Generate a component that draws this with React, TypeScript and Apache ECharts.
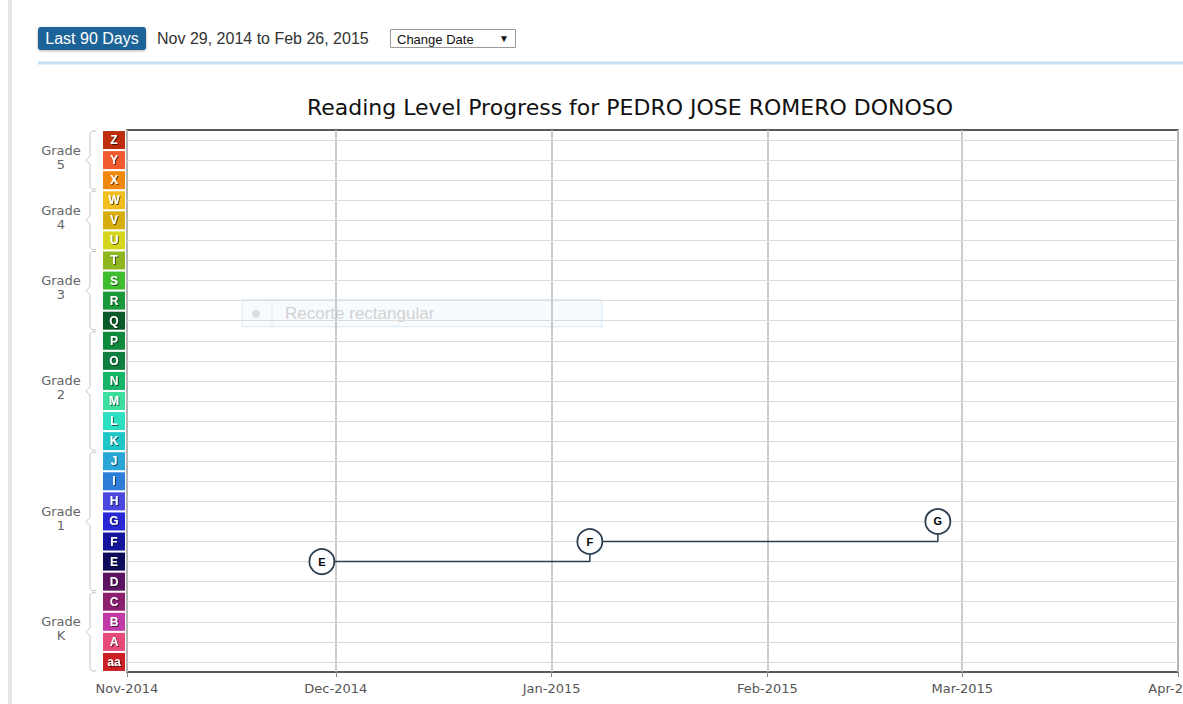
import React, { useEffect, useRef } from "react";
import * as echarts from "echarts";

const levels = ["aa","A","B","C","D","E","F","G","H","I","J","K","L","M","N","O","P","Q","R","S","T","U","V","W","X","Y","Z"];
const levelColors = ["#cc1f24","#e64a78","#c23aa6","#8c1f6e","#5c1462","#0c0c58","#15159c","#2727d6","#4a48de","#2d7ed8","#2aa6d6","#1ec6c8","#2ee0c2","#3ede9e","#16b466","#0f7e3e","#0f8a3a","#0b5a2a","#1a983a","#3ebe2e","#8eb61e","#d6d61e","#d6ae10","#f0be1e","#f0880e","#f05a2e","#be2e0e"];
const grades = [
  { name: "Grade\nK", from: "aa", to: "C" },
  { name: "Grade\n1", from: "D", to: "J" },
  { name: "Grade\n2", from: "K", to: "P" },
  { name: "Grade\n3", from: "Q", to: "T" },
  { name: "Grade\n4", from: "U", to: "W" },
  { name: "Grade\n5", from: "X", to: "Z" },
];
const readDates = ["2014-11-29", "2015-01-06T12:00:00", "2015-02-25T12:00:00"];
const readLevels = ["E", "F", "G"];
const xMin = "2014-11-01";
const xMax = "2015-04-01";
const monthNames = ["Jan","Feb","Mar","Apr","May","Jun","Jul","Aug","Sep","Oct","Nov","Dec"];
const titleText = "Reading Level Progress for PEDRO JOSE ROMERO DONOSO";

export default function App() {
  const ref = useRef<HTMLDivElement>(null);
  useEffect(() => {
    const chart = echarts.init(ref.current!, null, { renderer: "svg" });
    const rich: any = {};
    levels.forEach((l, i) => {
      rich["l" + i] = {
        backgroundColor: levelColors[i],
        width: 22, height: 18, align: "center", verticalAlign: "middle",
        color: "#fff", fontWeight: "bold", fontSize: 12, fontFamily: "Arial",
        textShadowColor: "rgba(0,0,0,0.6)", textShadowBlur: 1, textShadowOffsetX: 1, textShadowOffsetY: 1,
        lineHeight: 18,
      };
    });
    const header: any[] = [
      { type: "rect", shape: { x: 8, y: 0, width: 4, height: 704 }, style: { fill: "#e6e6e6" }, silent: true },
      { type: "rect", shape: { x: 38, y: 27, width: 108, height: 23, r: 3 }, style: { fill: "#1f6398", shadowColor: "rgba(0,0,0,0.3)", shadowBlur: 3, shadowOffsetY: 1 } },
      { type: "text", x: 92, y: 38.5, style: { text: "Last 90 Days", fill: "#fff", font: "16px Arial", align: "center", verticalAlign: "middle" } },
      { type: "text", x: 157, y: 38.5, style: { text: "Nov 29, 2014 to Feb 26, 2015", fill: "#333", font: "16px Arial", verticalAlign: "middle" } },
      { type: "rect", shape: { x: 390.5, y: 29.5, width: 125, height: 18 }, style: { fill: "#fff", stroke: "#9a9a9a", lineWidth: 1 } },
      { type: "text", x: 397, y: 39, style: { text: "Change Date", fill: "#111", font: "13px Arial", verticalAlign: "middle" } },
      { type: "text", x: 499, y: 38.5, style: { text: "▼", fill: "#111", font: "10px Arial", verticalAlign: "middle" } },
      { type: "rect", shape: { x: 38, y: 61.5, width: 1145, height: 3 }, style: { fill: "#c6e0f5" } },
      { type: "text", x: 630, y: 107, style: { text: titleText, fill: "#111", font: "22px 'DejaVu Sans'", align: "center", verticalAlign: "middle" } },
    ];
    const option: any = {
      animation: false,
      grid: { left: 127, right: 5, top: 130, bottom: 32, containLabel: false, outerBoundsMode: "none", show: true, borderColor: "#222", borderWidth: 1.5, backgroundColor: "transparent" },
      xAxis: {
        type: "time", min: xMin, max: xMax, splitNumber: 5,
        axisLine: { show: false },
        axisTick: { show: true, length: 5, lineStyle: { color: "#888" } },
        splitLine: { show: true, lineStyle: { color: "#bbb", width: 1.5 } },
        minorTick: { show: false },
        axisLabel: {
          color: "#555", fontSize: 13, fontFamily: "DejaVu Sans", margin: 10, showMinLabel: true, showMaxLabel: true, hideOverlap: false,
          formatter: (v: number) => { const d = new Date(v); return monthNames[d.getMonth()] + "-" + d.getFullYear(); },
        },
      },
      yAxis: {
        type: "category", data: levels, boundaryGap: true,
        axisLine: { show: false }, axisTick: { show: false }, splitLine: { show: false },
        axisLabel: { margin: 2, interval: 0, formatter: (v: string, i: number) => `{l${i}|${v}}`, rich },
      },
      series: [
        {
          type: "line", step: "start",
          data: readDates.map((d, i) => [d, readLevels[i]]),
          lineStyle: { color: "#2b3f52", width: 1.5 },
          symbol: "circle", symbolSize: 25,
          itemStyle: { color: "#fff", borderColor: "#2b3f52", borderWidth: 1.8 },
          label: { show: true, position: "inside", formatter: (p: any) => p.value[1], color: "#000", fontWeight: "bold", fontSize: 11, fontFamily: "Arial" },
          markLine: {
            silent: true, symbol: "none", label: { show: false },
            lineStyle: { color: "#dcdcdc", width: 1.2, type: "solid" },
            data: levels.map((l) => ({ yAxis: l })),
          },
          z: 5,
        },
      ],
      graphic: header,
    };
    chart.setOption(option);
    const brackets: any[] = [];
    grades.forEach((g) => {
      const yb = chart.convertToPixel({ yAxisIndex: 0 }, g.from) as number;
      const yt = chart.convertToPixel({ yAxisIndex: 0 }, g.to) as number;
      const top = yt - 9;
      const bot = yb + 9;
      const mid = (top + bot) / 2;
      const x = 90;
      brackets.push({
        type: "polyline",
        shape: { points: [[96, top], [92, top], [x, top + 2], [x, mid - 4], [86, mid], [x, mid + 4], [x, bot - 2], [92, bot], [96, bot]] },
        style: { stroke: "#c4c4c4", lineWidth: 1, fill: null },
        silent: true,
      });
      brackets.push({
        type: "text", x: 61, y: mid - 3,
        style: { text: g.name, fill: "#666", font: "13px 'DejaVu Sans'", align: "center", verticalAlign: "middle", lineHeight: 14 },
      });
    });
    const ovY = chart.convertToPixel({ yAxisIndex: 0 }, "Q") as number;
    brackets.push(
      { type: "rect", shape: { x: 242, y: ovY - 21, width: 360, height: 27 }, style: { fill: "rgba(225,238,250,0.25)", stroke: "rgba(190,215,240,0.5)", lineWidth: 1 } },
      { type: "line", shape: { x1: 272, y1: ovY - 21, x2: 272, y2: ovY + 6 }, style: { stroke: "rgba(190,215,240,0.5)", lineWidth: 1 } },
      { type: "circle", shape: { cx: 256, cy: ovY - 7, r: 4 }, style: { fill: "#dedede" } },
      { type: "text", x: 285, y: ovY - 7, style: { text: "Recorte rectangular", fill: "#d2d2d2", font: "17px Arial", verticalAlign: "middle" } }
    );
    chart.setOption({ graphic: header.concat(brackets) });
    return () => chart.dispose();
  }, []);
  return <div ref={ref} style={{ position: "absolute", left: 0, top: 0, width: 1183, height: 704, background: "#fff" }} />;
}
